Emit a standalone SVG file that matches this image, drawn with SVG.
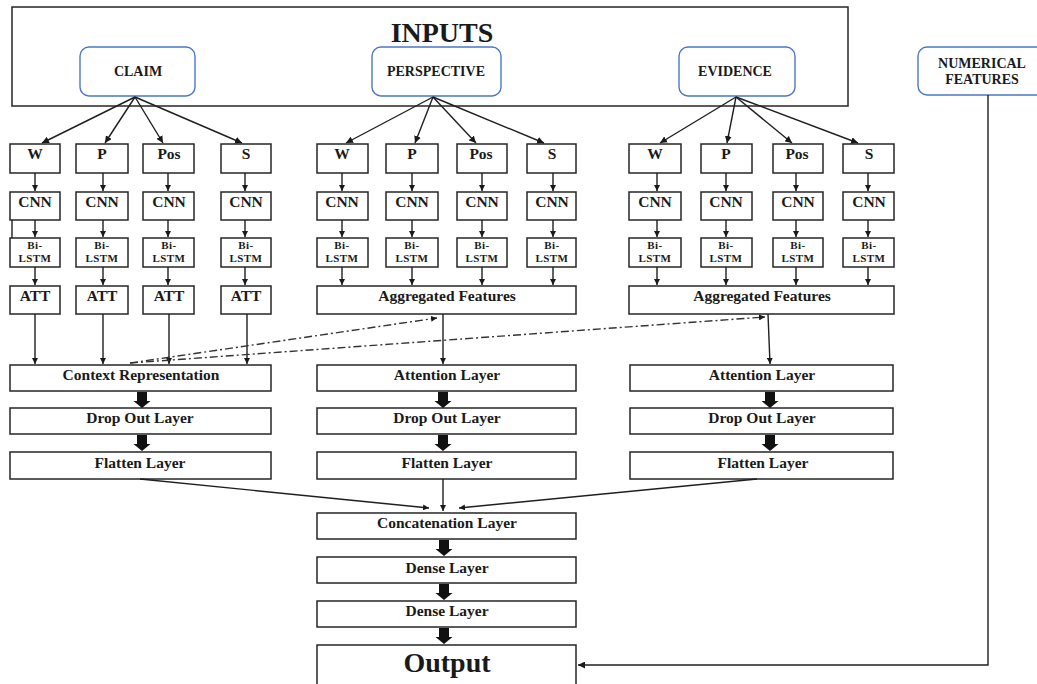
<svg xmlns="http://www.w3.org/2000/svg" width="1037" height="684" viewBox="0 0 1037 684">
<defs>
<marker id="ah" viewBox="0 0 10 10" refX="10" refY="5" markerWidth="7" markerHeight="7" markerUnits="userSpaceOnUse" orient="auto">
<path d="M0,0 L10,5 L0,10 z" fill="#1a1a1a"/>
</marker>
<marker id="ahs" viewBox="0 0 10 10" refX="10" refY="5" markerWidth="6" markerHeight="6" markerUnits="userSpaceOnUse" orient="auto">
<path d="M0,0 L10,5 L0,10 z" fill="#1a1a1a"/>
</marker>
<path id="blk" d="M-5,0 H5 V9 H8.5 L0,16 L-8.5,9 H-5 Z" fill="#111"/>
</defs>
<style>
.bx{fill:#fff;stroke:#262626;stroke-width:1.5}
.in{fill:#fff;stroke:#4a78c8;stroke-width:1.4}
.t{font-family:"Liberation Serif","Times New Roman",serif;font-weight:bold;fill:#1a1a1a;text-anchor:middle}
.f15{font-size:15.5px}
.f14{font-size:14px}
.f10{font-size:11px;letter-spacing:0.4px}
.ln{stroke:#1f1f1f;stroke-width:1.4;fill:none}
.dd{stroke:#333;stroke-width:1.4;fill:none;stroke-dasharray:8 3 2 3}
</style>
<rect width="1037" height="684" fill="#fff"/>

<g id="inputs">
<rect class="bx" x="12" y="7" width="836" height="99"/>
<text class="t" x="442" y="42" style="font-size:28px">INPUTS</text>
</g>
<g id="claim"><rect class="in" x="80" y="47" width="115" height="49" rx="9"/><text class="t f14" x="138" y="76">CLAIM</text></g>
<g id="perspective"><rect class="in" x="372" y="47" width="129" height="49" rx="9"/><text class="t f14" x="436" y="76">PERSPECTIVE</text></g>
<g id="evidence"><rect class="in" x="679" y="47" width="116" height="49" rx="9"/><text class="t f14" x="735" y="76">EVIDENCE</text></g>
<g id="numerical"><rect class="in" x="918" y="47" width="130" height="48" rx="9"/><text class="t f14" x="982" y="68">NUMERICAL</text><text class="t f14" x="982" y="84">FEATURES</text></g>

<!-- claim columns -->
<g id="c-w"><rect class="bx" x="10" y="144" width="50" height="29"/><text class="t f15" x="35" y="159">W</text></g>
<g id="c-p"><rect class="bx" x="76" y="144" width="52" height="29"/><text class="t f15" x="102" y="159">P</text></g>
<g id="c-pos"><rect class="bx" x="143" y="144" width="51" height="29"/><text class="t f15" x="169" y="159">Pos</text></g>
<g id="c-s"><rect class="bx" x="221" y="144" width="50" height="29"/><text class="t f15" x="246" y="159">S</text></g>
<g id="c-cnn1"><rect class="bx" x="10" y="192" width="50" height="28"/><text class="t f15" x="35" y="207">CNN</text></g>
<g id="c-cnn2"><rect class="bx" x="76" y="192" width="52" height="28"/><text class="t f15" x="102" y="207">CNN</text></g>
<g id="c-cnn3"><rect class="bx" x="143" y="192" width="51" height="28"/><text class="t f15" x="169" y="207">CNN</text></g>
<g id="c-cnn4"><rect class="bx" x="221" y="192" width="50" height="28"/><text class="t f15" x="246" y="207">CNN</text></g>
<g id="c-bl1"><rect class="bx" x="10" y="238" width="50" height="29"/><text class="t f10" x="35" y="249">Bi-</text><text class="t f10" x="35" y="262">LSTM</text></g>
<g id="c-bl2"><rect class="bx" x="76" y="238" width="52" height="29"/><text class="t f10" x="102" y="249">Bi-</text><text class="t f10" x="102" y="262">LSTM</text></g>
<g id="c-bl3"><rect class="bx" x="143" y="238" width="51" height="29"/><text class="t f10" x="169" y="249">Bi-</text><text class="t f10" x="169" y="262">LSTM</text></g>
<g id="c-bl4"><rect class="bx" x="221" y="238" width="50" height="29"/><text class="t f10" x="246" y="249">Bi-</text><text class="t f10" x="246" y="262">LSTM</text></g>
<g id="c-att1"><rect class="bx" x="10" y="286" width="50" height="28"/><text class="t f15" x="35" y="301">ATT</text></g>
<g id="c-att2"><rect class="bx" x="76" y="286" width="52" height="28"/><text class="t f15" x="102" y="301">ATT</text></g>
<g id="c-att3"><rect class="bx" x="143" y="286" width="51" height="28"/><text class="t f15" x="169" y="301">ATT</text></g>
<g id="c-att4"><rect class="bx" x="221" y="286" width="50" height="28"/><text class="t f15" x="246" y="301">ATT</text></g>

<!-- perspective columns -->
<g id="p-w"><rect class="bx" x="317" y="144" width="51" height="29"/><text class="t f15" x="342" y="159">W</text></g>
<g id="p-p"><rect class="bx" x="386" y="144" width="52" height="29"/><text class="t f15" x="412" y="159">P</text></g>
<g id="p-pos"><rect class="bx" x="457" y="144" width="50" height="29"/><text class="t f15" x="481" y="159">Pos</text></g>
<g id="p-s"><rect class="bx" x="527" y="144" width="49" height="29"/><text class="t f15" x="552" y="159">S</text></g>
<g id="p-cnn1"><rect class="bx" x="317" y="192" width="51" height="28"/><text class="t f15" x="342" y="207">CNN</text></g>
<g id="p-cnn2"><rect class="bx" x="386" y="192" width="52" height="28"/><text class="t f15" x="412" y="207">CNN</text></g>
<g id="p-cnn3"><rect class="bx" x="457" y="192" width="50" height="28"/><text class="t f15" x="482" y="207">CNN</text></g>
<g id="p-cnn4"><rect class="bx" x="527" y="192" width="49" height="28"/><text class="t f15" x="552" y="207">CNN</text></g>
<g id="p-bl1"><rect class="bx" x="317" y="238" width="51" height="29"/><text class="t f10" x="342" y="249">Bi-</text><text class="t f10" x="342" y="262">LSTM</text></g>
<g id="p-bl2"><rect class="bx" x="386" y="238" width="52" height="29"/><text class="t f10" x="412" y="249">Bi-</text><text class="t f10" x="412" y="262">LSTM</text></g>
<g id="p-bl3"><rect class="bx" x="457" y="238" width="50" height="29"/><text class="t f10" x="482" y="249">Bi-</text><text class="t f10" x="482" y="262">LSTM</text></g>
<g id="p-bl4"><rect class="bx" x="527" y="238" width="49" height="29"/><text class="t f10" x="552" y="249">Bi-</text><text class="t f10" x="552" y="262">LSTM</text></g>
<g id="p-agg"><rect class="bx" x="317" y="286" width="259" height="28"/><text class="t f15" x="447" y="301">Aggregated Features</text></g>

<!-- evidence columns -->
<g id="e-w"><rect class="bx" x="629" y="144" width="52" height="29"/><text class="t f15" x="655" y="159">W</text></g>
<g id="e-p"><rect class="bx" x="701" y="144" width="51" height="29"/><text class="t f15" x="726" y="159">P</text></g>
<g id="e-pos"><rect class="bx" x="773" y="144" width="50" height="29"/><text class="t f15" x="797" y="159">Pos</text></g>
<g id="e-s"><rect class="bx" x="843" y="144" width="51" height="29"/><text class="t f15" x="869" y="159">S</text></g>
<g id="e-cnn1"><rect class="bx" x="629" y="192" width="52" height="28"/><text class="t f15" x="655" y="207">CNN</text></g>
<g id="e-cnn2"><rect class="bx" x="701" y="192" width="51" height="28"/><text class="t f15" x="726" y="207">CNN</text></g>
<g id="e-cnn3"><rect class="bx" x="773" y="192" width="50" height="28"/><text class="t f15" x="798" y="207">CNN</text></g>
<g id="e-cnn4"><rect class="bx" x="843" y="192" width="51" height="28"/><text class="t f15" x="869" y="207">CNN</text></g>
<g id="e-bl1"><rect class="bx" x="629" y="238" width="52" height="29"/><text class="t f10" x="655" y="249">Bi-</text><text class="t f10" x="655" y="262">LSTM</text></g>
<g id="e-bl2"><rect class="bx" x="701" y="238" width="51" height="29"/><text class="t f10" x="726" y="249">Bi-</text><text class="t f10" x="726" y="262">LSTM</text></g>
<g id="e-bl3"><rect class="bx" x="773" y="238" width="50" height="29"/><text class="t f10" x="798" y="249">Bi-</text><text class="t f10" x="798" y="262">LSTM</text></g>
<g id="e-bl4"><rect class="bx" x="843" y="238" width="51" height="29"/><text class="t f10" x="869" y="249">Bi-</text><text class="t f10" x="869" y="262">LSTM</text></g>
<g id="e-agg"><rect class="bx" x="629" y="286" width="265" height="28"/><text class="t f15" x="762" y="301">Aggregated Features</text></g>

<!-- lower layers -->
<g id="c-ctx"><rect class="bx" x="10" y="365" width="261" height="26"/><text class="t f15" x="141" y="380">Context Representation</text></g>
<g id="c-drop"><rect class="bx" x="10" y="408" width="261" height="26"/><text class="t f15" x="140" y="423">Drop Out Layer</text></g>
<g id="c-flat"><rect class="bx" x="10" y="452" width="261" height="27"/><text class="t f15" x="140" y="468">Flatten Layer</text></g>
<g id="p-att"><rect class="bx" x="317" y="365" width="259" height="26"/><text class="t f15" x="447" y="380">Attention Layer</text></g>
<g id="p-drop"><rect class="bx" x="317" y="408" width="259" height="26"/><text class="t f15" x="447" y="423">Drop Out Layer</text></g>
<g id="p-flat"><rect class="bx" x="317" y="452" width="259" height="27"/><text class="t f15" x="447" y="468">Flatten Layer</text></g>
<g id="e-att"><rect class="bx" x="630" y="365" width="263" height="26"/><text class="t f15" x="762" y="380">Attention Layer</text></g>
<g id="e-drop"><rect class="bx" x="630" y="408" width="263" height="26"/><text class="t f15" x="762" y="423">Drop Out Layer</text></g>
<g id="e-flat"><rect class="bx" x="630" y="452" width="263" height="27"/><text class="t f15" x="763" y="468">Flatten Layer</text></g>
<g id="concat"><rect class="bx" x="317" y="513" width="259" height="26"/><text class="t f15" x="447" y="528">Concatenation Layer</text></g>
<g id="dense1"><rect class="bx" x="317" y="557" width="259" height="26"/><text class="t f15" x="447" y="573">Dense Layer</text></g>
<g id="dense2"><rect class="bx" x="317" y="601" width="259" height="26"/><text class="t f15" x="447" y="616">Dense Layer</text></g>
<g id="output"><rect class="bx" x="317" y="645" width="259" height="50"/><text class="t" x="447" y="672" style="font-size:28px">Output</text></g>

<g id="connectors">
<line class="ln" x1="135" y1="97" x2="42" y2="143" marker-end="url(#ah)"/>
<line class="ln" x1="135" y1="97" x2="105" y2="143" marker-end="url(#ah)"/>
<line class="ln" x1="135" y1="97" x2="163" y2="143" marker-end="url(#ah)"/>
<line class="ln" x1="135" y1="97" x2="242" y2="143" marker-end="url(#ah)"/>
<line class="ln" x1="433" y1="97" x2="346" y2="143" marker-end="url(#ah)"/>
<line class="ln" x1="433" y1="97" x2="415" y2="143" marker-end="url(#ah)"/>
<line class="ln" x1="433" y1="97" x2="476" y2="143" marker-end="url(#ah)"/>
<line class="ln" x1="433" y1="97" x2="544" y2="143" marker-end="url(#ah)"/>
<line class="ln" x1="736" y1="97" x2="660" y2="143" marker-end="url(#ah)"/>
<line class="ln" x1="736" y1="97" x2="727" y2="143" marker-end="url(#ah)"/>
<line class="ln" x1="736" y1="97" x2="792" y2="143" marker-end="url(#ah)"/>
<line class="ln" x1="736" y1="97" x2="858" y2="143" marker-end="url(#ah)"/>

<g marker-end="url(#ahs)">
<line class="ln" x1="35" y1="173" x2="35" y2="191"/><line class="ln" x1="35" y1="220" x2="35" y2="237"/><line class="ln" x1="35" y1="267" x2="35" y2="285"/>
<line class="ln" x1="103" y1="173" x2="103" y2="191"/><line class="ln" x1="103" y1="220" x2="103" y2="237"/><line class="ln" x1="103" y1="267" x2="103" y2="285"/>
<line class="ln" x1="168" y1="173" x2="168" y2="191"/><line class="ln" x1="168" y1="220" x2="168" y2="237"/><line class="ln" x1="168" y1="267" x2="168" y2="285"/>
<line class="ln" x1="245" y1="173" x2="245" y2="191"/><line class="ln" x1="245" y1="220" x2="245" y2="237"/><line class="ln" x1="245" y1="267" x2="245" y2="285"/>
<line class="ln" x1="35" y1="314" x2="35" y2="364"/><line class="ln" x1="103" y1="314" x2="103" y2="364"/><line class="ln" x1="169" y1="314" x2="169" y2="364"/><line class="ln" x1="247" y1="314" x2="247" y2="364"/>

<line class="ln" x1="342" y1="173" x2="342" y2="191"/><line class="ln" x1="342" y1="220" x2="342" y2="237"/><line class="ln" x1="342" y1="267" x2="342" y2="285"/>
<line class="ln" x1="412" y1="173" x2="412" y2="191"/><line class="ln" x1="412" y1="220" x2="412" y2="237"/><line class="ln" x1="412" y1="267" x2="412" y2="285"/>
<line class="ln" x1="482" y1="173" x2="482" y2="191"/><line class="ln" x1="482" y1="220" x2="482" y2="237"/><line class="ln" x1="482" y1="267" x2="482" y2="285"/>
<line class="ln" x1="553" y1="173" x2="553" y2="191"/><line class="ln" x1="553" y1="220" x2="553" y2="237"/><line class="ln" x1="553" y1="267" x2="553" y2="285"/>

<line class="ln" x1="657" y1="173" x2="657" y2="191"/><line class="ln" x1="657" y1="220" x2="657" y2="237"/><line class="ln" x1="657" y1="267" x2="657" y2="285"/>
<line class="ln" x1="726" y1="173" x2="726" y2="191"/><line class="ln" x1="726" y1="220" x2="726" y2="237"/><line class="ln" x1="726" y1="267" x2="726" y2="285"/>
<line class="ln" x1="796" y1="173" x2="796" y2="191"/><line class="ln" x1="796" y1="220" x2="796" y2="237"/><line class="ln" x1="796" y1="267" x2="796" y2="285"/>
<line class="ln" x1="868" y1="173" x2="868" y2="191"/><line class="ln" x1="868" y1="220" x2="868" y2="237"/><line class="ln" x1="868" y1="267" x2="868" y2="285"/>

<line class="ln" x1="443" y1="314" x2="443" y2="364"/>
<line class="ln" x1="768" y1="314" x2="770" y2="364"/>
</g>
<line class="ln" x1="12" y1="220" x2="12" y2="238"/>

<line class="dd" x1="130" y1="363" x2="437" y2="318" marker-end="url(#ahs)"/>
<line class="dd" x1="130" y1="363" x2="765" y2="317" marker-end="url(#ahs)"/>

<use href="#blk" x="142" y="392"/><use href="#blk" x="142" y="435"/>
<use href="#blk" x="443" y="392"/><use href="#blk" x="443" y="435"/>
<use href="#blk" x="770" y="392"/><use href="#blk" x="770" y="435"/>
<use href="#blk" x="444" y="540"/><use href="#blk" x="444" y="584"/><use href="#blk" x="444" y="628"/>

<line class="ln" x1="140" y1="479" x2="429" y2="508" marker-end="url(#ahs)"/>
<line class="ln" x1="443" y1="479" x2="443" y2="511" marker-end="url(#ahs)"/>
<line class="ln" x1="757" y1="479" x2="459" y2="508" marker-end="url(#ahs)"/>

<polyline class="ln" points="988,95 988,665 578,665" marker-end="url(#ah)"/>
</g>
</svg>
